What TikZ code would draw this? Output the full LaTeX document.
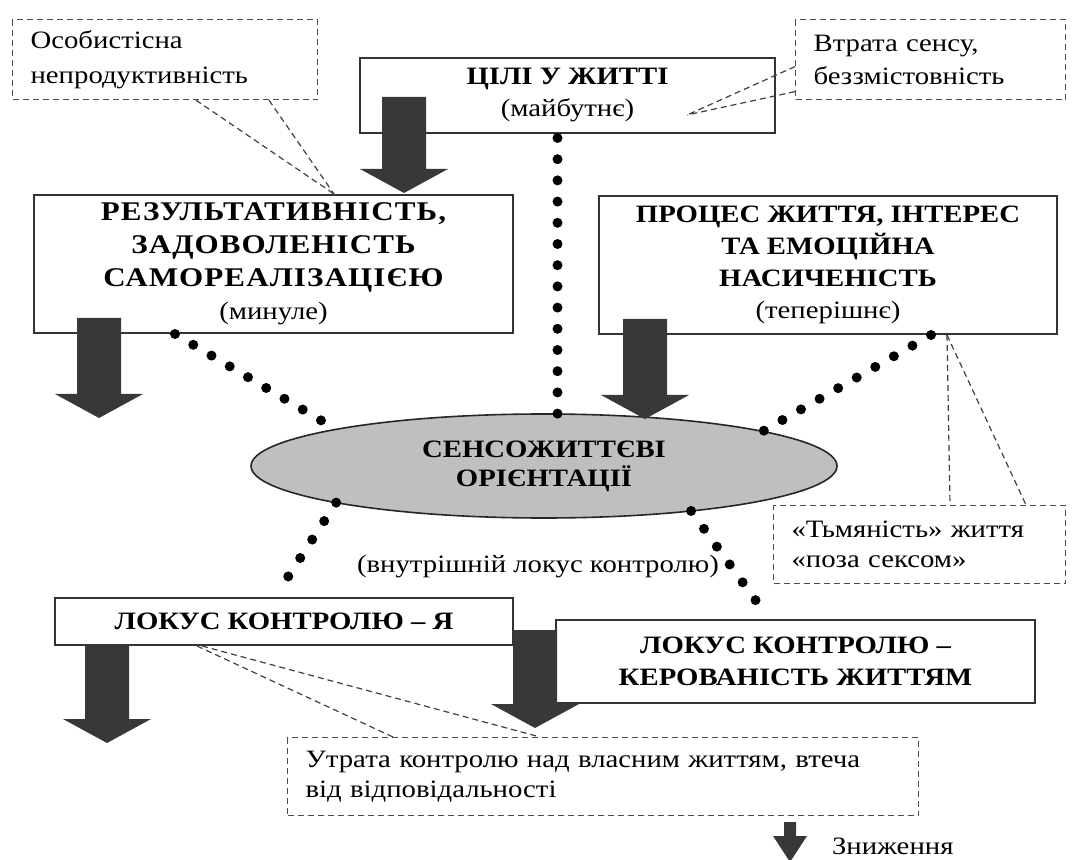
\documentclass[tikz,border=0pt]{standalone}
\usepackage{fontspec}
\setmainfont{Liberation Serif}[FakeStretch=1.15]
\usetikzlibrary{shapes.geometric}

\tikzset{
  box/.style={draw=black!80, line width=1pt, fill=white, inner sep=0pt, align=center,
    font=\fontsize{12.5}{16}\selectfont\bfseries},
  oval/.style={ellipse, draw=black!85, line width=0.8pt, fill=black!25, inner sep=0pt, outer sep=0pt,
    minimum width=293pt, minimum height=52pt, align=center, font=\fontsize{12.5}{14.5}\selectfont\bfseries},
  note/.style={draw=black!70, line width=0.6pt, dash pattern=on 3pt off 2pt, fill=white,
    inner xsep=9pt, inner ysep=0pt, anchor=north west, align=left},
  callout/.style={draw=black!75, line width=0.6pt, dash pattern=on 3pt off 2pt},
  dotline/.style={draw=black, line width=5pt, line cap=round, dash pattern=on 0pt off #1},
  dotline/.default=11pt,
  arrowfill/.style={fill=black!78}
}
\newcommand{\fatarrow}[3]{%
  \fill[arrowfill] (#1-22,#2) -- (#1+22,#2) -- (#1+22,#3-24) -- (#1+44,#3-24) -- (#1,#3)
    -- (#1-44,#3-24) -- (#1-22,#3-24) -- cycle;}

\begin{document}
\begin{tikzpicture}[x=0.5pt,y=-0.5pt,font=\fontsize{12.5}{15}\selectfont]
\useasboundingbox (0,0) rectangle (1074,860);

% блоки
\node[box, minimum width=207.5pt, minimum height=37.5pt] (goals) at (567.5,95.5)
  {ЦІЛІ У ЖИТТІ\\{\mdseries (майбутнє)}};
\node[box, minimum width=239.5pt, minimum height=69pt, font=\fontsize{13.5}{16.5}\selectfont\bfseries] (past) at (273.5,264)
  {\addfontfeatures{LetterSpace=4}РЕЗУЛЬТАТИВНІСТЬ,\\
   \addfontfeatures{LetterSpace=4}ЗАДОВОЛЕНІСТЬ\\
   \addfontfeatures{LetterSpace=4}САМОРЕАЛІЗАЦІЄЮ\\{\mdseries\fontsize{12.5}{15}\selectfont (минуле)}};
\node[box, minimum width=229pt, minimum height=69pt] (present) at (828,265)
  {ПРОЦЕС ЖИТТЯ, ІНТЕРЕС\\ТА ЕМОЦІЙНА\\НАСИЧЕНІСТЬ\\{\mdseries (теперішнє)}};
\node[oval] (core) at (544,466) {СЕНСОЖИТТЄВІ\\ОРІЄНТАЦІЇ};
\node[box, minimum width=229pt, minimum height=23.5pt] (self) at (284,621.5)
  {ЛОКУС КОНТРОЛЮ – Я};
\node[box, minimum width=239.5pt, minimum height=41.5pt] (life) at (795.5,661.5)
  {ЛОКУС КОНТРОЛЮ –\\КЕРОВАНІСТЬ ЖИТТЯМ};
\node (inner) at (538,567) {(внутрішній локус контролю)};

% примітки
\node[note, text width=134.5pt, minimum height=40pt, font=\fontsize{12.5}{17.5}\selectfont] (noteTL) at (12,19)
  {Особистісна\\непродуктивність};
\node[note, text width=117pt, minimum height=40pt, font=\fontsize{12.5}{16.5}\selectfont] (noteTR) at (795,19)
  {Втрата сенсу,\\беззмістовність};
\node[note, text width=128pt, minimum height=39pt] (noteDim) at (773,505)
  {«Тьмяність» життя\\«поза сексом»};
\node[note, text width=297.5pt, minimum height=39pt] (noteLoss) at (287,737)
  {Утрата контролю над власним життям, втеча\\від відповідальності};
\node[anchor=west] (drop) at (825,846) {Зниження};

% виноски
\coordinate (goalsin) at (687,115);
\draw[callout] ([xshift=92pt]noteTL.south west) -- ([xshift=150.5pt]past.north west);
\draw[callout] ([xshift=128.5pt]noteTL.south west) -- ([xshift=150.5pt]past.north west);
\draw[callout] ([yshift=-3.5pt]noteTR.west) -- (goalsin);
\draw[callout] ([yshift=-16pt]noteTR.west) -- (goalsin);
\draw[callout] ([xshift=174.5pt]present.south west) -- ([xshift=88.5pt]noteDim.north west);
\draw[callout] ([xshift=174.5pt]present.south west) -- ([xshift=126.5pt]noteDim.north west);
\draw[callout] ([xshift=71.5pt]self.south west) -- ([xshift=53pt]noteLoss.north west);
\draw[callout] ([xshift=74pt]self.south west) -- ([xshift=126.5pt]noteLoss.north west);

% пунктирні зв'язки
\coordinate (d1) at ([xshift=-5pt,yshift=-2pt]goals.south);
\draw[dotline=10.6pt] (d1) -- (d1 |- core.north);
\draw[dotline=10.6pt] ([xshift=71pt]past.south west) -- (core.170);
\draw[dotline=10.7pt] ([xshift=166.5pt]present.south west) -- (core.9);
\draw[dotline] (core.190) -- ([yshift=7pt]self.north);
\draw[dotline] (core.-17) -- ([xshift=102pt,yshift=7pt]life.north west);

% стрілки
\fatarrow{404}{97}{193}
\fatarrow{99}{318}{418}
\fatarrow{645}{319}{419}
\fatarrow{107}{645}{743}
\fatarrow{535}{630}{728}
\fill[arrowfill] (784,822) -- (796,822) -- (796,836) -- (807,836) -- (790,862)
  -- (773,836) -- (784,836) -- cycle;
\end{tikzpicture}
\end{document}
